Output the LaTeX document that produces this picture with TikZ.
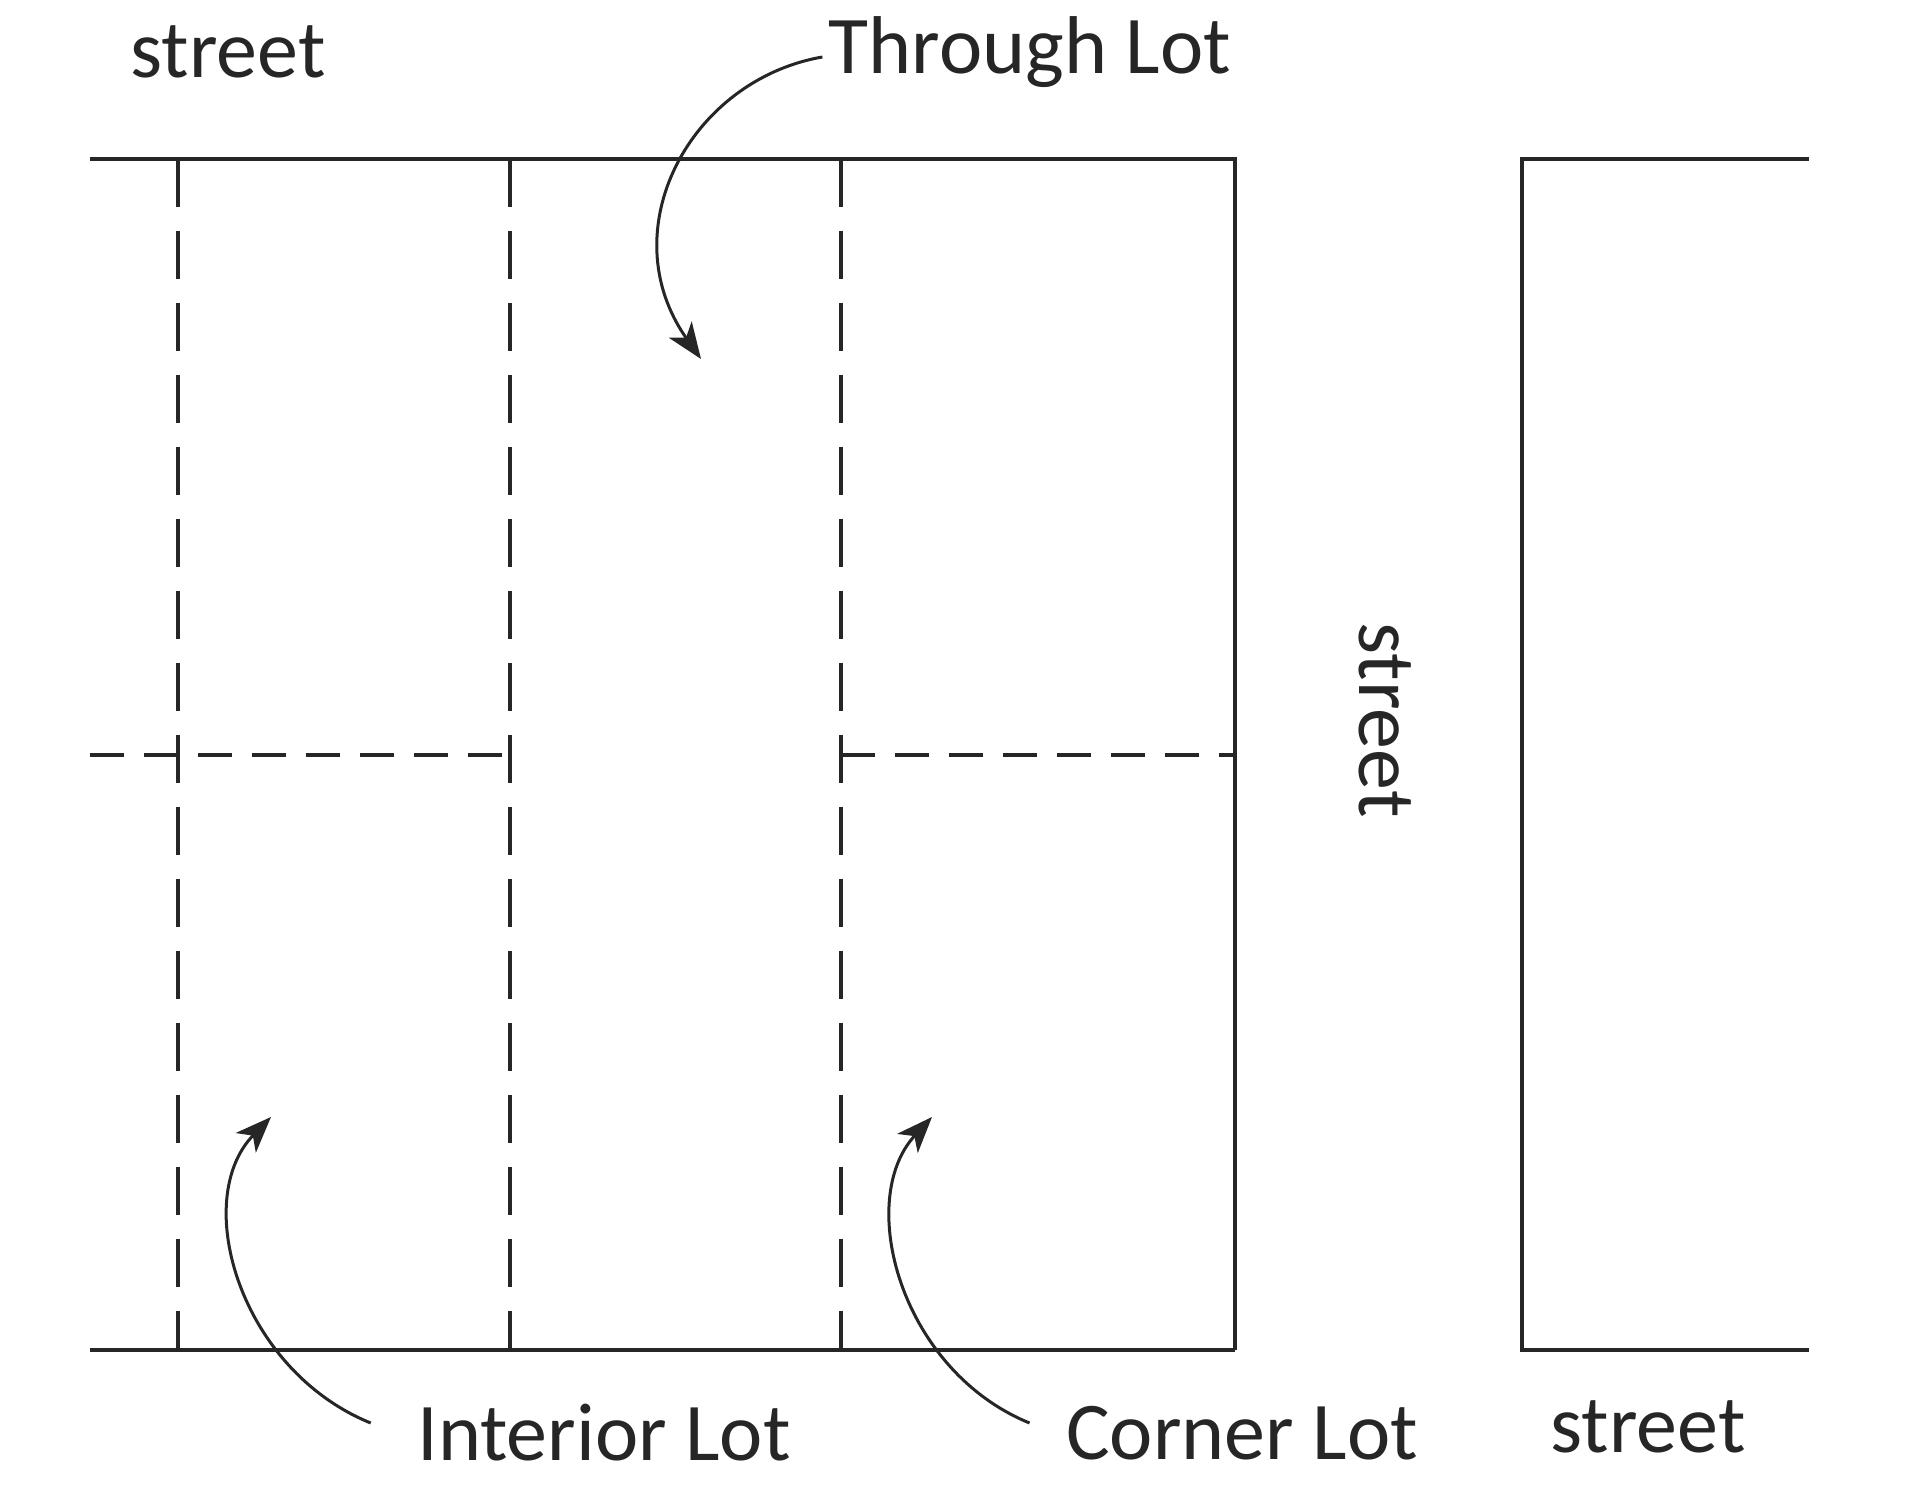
\documentclass[tikz,border=0pt]{standalone}
\usepackage{fontspec}
\setmainfont{Carlito}
\usetikzlibrary{arrows.meta}
\begin{document}
\begin{tikzpicture}[x=1pt,y=-1pt,line width=3.2pt,color={black!85},
  lbl/.style={font=\fontsize{82}{94}\selectfont,inner sep=0pt},
  vdash/.style={dash pattern=on 48pt off 24pt},
  hdash/.style={dash pattern=on 34pt off 20pt},
  arr/.style={-{Stealth[length=36pt,width=28pt,inset=10pt]},line width=3pt}]
\useasboundingbox (0,0) rectangle (1907,1488);
% main block
\coordinate (tl) at (90,159);
\coordinate (tr) at (1235,159);
\coordinate (br) at (1235,1350);
\coordinate (bl) at (90,1350);
\draw (tl) -- (tr) -- (br);
\draw (bl) -- (br);
\foreach \x in {178,510,841} \draw[vdash] (\x,159) -- (\x,1350);
\draw[hdash] (90,755) -- (510,755);
\draw[hdash] (841,755) -- (1235,755);
% right block
\draw (1809,159) -- (1522,159) -- (1522,1350) -- (1809,1350);
% labels
\node[lbl] (s1) at (228,52) {street};
\node[lbl] (thr) at (1030,52) {Through Lot};
\node[lbl,rotate=-90] (s2) at (1385,720) {street};
\node[lbl] (int) at (604,1433) {Interior Lot};
\node[lbl] (cor) at (1242,1433) {Corner Lot};
\node[lbl] (s3) at (1648,1427) {street};
% arrows
\coordinate (tA) at (701,359);
\coordinate (iA) at (271,1117);
\coordinate (cA) at (932,1117);
\draw[arr] (thr.west) ++(-5,5) .. controls (690,80) and (610,230) .. (tA);
\draw[arr] (int.west) ++(-45,-10) .. controls (240,1370) and (190,1200) .. (iA);
\draw[arr] (cor.west) ++(-35,-10) .. controls (900,1370) and (855,1200) .. (cA);
\end{tikzpicture}
\end{document}
